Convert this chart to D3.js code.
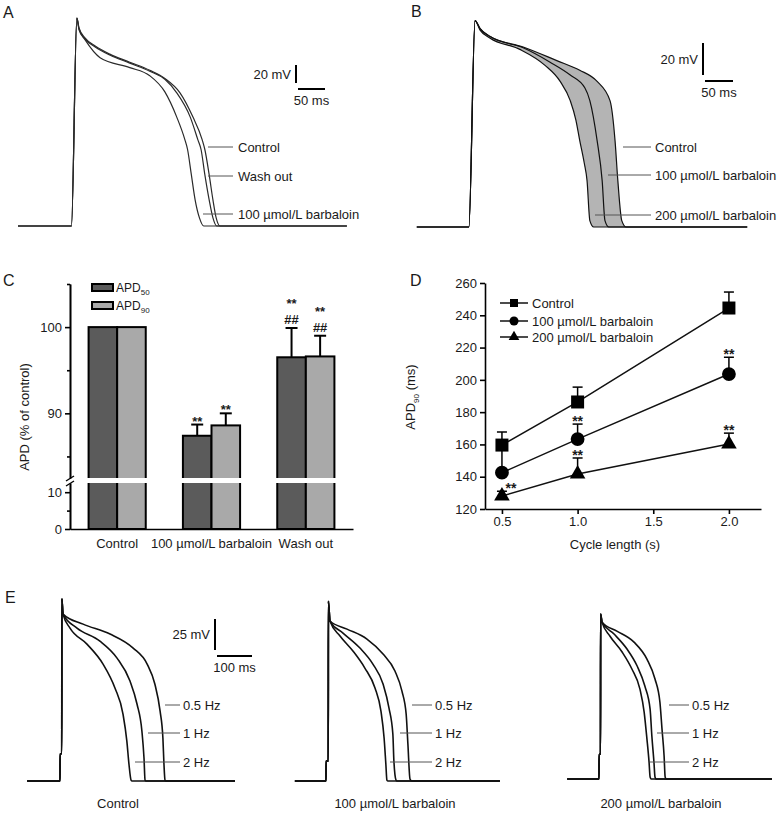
<!DOCTYPE html>
<html>
<head>
<meta charset="utf-8">
<script src="https://cdn.jsdelivr.net/npm/d3@7"></script>
<style>
  body { margin: 0; background: #fff; }
  text { font-family: "Liberation Sans", Arial, sans-serif; fill: #1a1a1a; }
</style>
</head>
<body>
<svg id="fig" width="777" height="813"></svg>
<script>
// ---- panel A: action potentials (t in ms, V in mV) ----
const apAControl = [[-100,-85],[-1,-85],[9,146],[13,135],[24,124],[43,115],[70,106],[107,97],[144,88],[172,79],[200,63],[224,36],[241,11],[246,0],[254,-28],[261,-56],[267,-76],[274,-85],[509,-85]];
const apAWashout = [[-100,-85],[-1,-85],[9,146],[13,134],[24,123],[43,114],[70,105],[107,96],[144,87],[172,78],[194,63],[219,36],[233,11],[239,0],[246,-28],[254,-56],[261,-76],[268,-85],[509,-85]];
const apABarb100 = [[-100,-85],[-1,-85],[9,146],[13,133],[24,122],[52,102],[107,91],[144,82],[172,64],[194,36],[209,11],[214,0],[221,-28],[228,-56],[236,-76],[244,-85],[509,-85]];
const aLabels = ['Control', 'Wash out', '100 µmol/L barbaloin'];

// ---- panel B ----
const apBControl = [[-95,-85],[-2,-85],[9,44],[18,39],[36,34],[95,27.5],[155,19],[196,13],[227,6],[250,-6],[259,-31],[264,-56],[271,-81],[279,-85],[495,-85]];
const apBBarb100 = [[-95,-85],[-2,-85],[9,44],[18,39],[36,34],[95,27],[143,18],[179,10],[205,2],[214,-6],[227,-31],[236,-56],[241,-81],[248,-85],[495,-85]];
const apBBarb200 = [[-95,-85],[-2,-85],[9,44],[18,38],[36,33],[89,26],[134,16],[161,6],[179,-6],[189,-18],[196,-31],[204,-45],[209,-56],[214,-81],[221,-85],[495,-85]];
const bLabels = ['Control', '100 µmol/L barbaloin', '200 µmol/L barbaloin'];

// ---- panel C ----
const cCategories = ['Control', '100 µmol/L barbaloin', 'Wash out'];
const cSeries = ['APD50', 'APD90'];
const cApd50 = [100, 87.4, 96.5];
const cApd50Err = [0, 1.3, 3.4];
const cApd90 = [100, 88.6, 96.6];
const cApd90Err = [0, 1.4, 2.4];
const cSig50 = [[], ['**'], ['##', '**']];
const cSig90 = [[], ['**'], ['##', '**']];

// ---- panel D ----
const dCycle = [0.5, 1.0, 2.0];
const dControl = [159.6, 186.3, 244.5];
const dControlErr = [8.1, 9.2, 9.9];
const dBarb100 = [142.5, 163.3, 203.6];
const dBarb100Err = [14, 9.3, 10.4];
const dBarb200 = [128, 141.7, 160.2];
const dBarb200Err = [3, 9.9, 6.8];
const dSig100 = [false, true, true];
const dSig200 = [true, true, true];
const dLegend = ['Control', '100 µmol/L barbaloin', '200 µmol/L barbaloin'];

// ---- panel E: stimulus + three pacing rates for each condition ----
const eStim1 = [[-94,-85],[0,-85],[0.3,-63],[5,-63],[5.3,62],[8.6,49.6]];
const eCtrl05 = [[66,41.5],[143,33.5],[209,22.2],[249,9.3],[271,-6.8],[286,-28.6],[294,-50.3],[297,-71.3],[300,-84.2],[303,-85],[500,-85]];
const eCtrl1 = [[48.6,38.3],[114,27.8],[163,14.1],[200,-4.4],[220,-22.9],[234,-44.7],[240,-66.5],[243,-84.2],[246,-85],[500,-85]];
const eCtrl2 = [[28.6,38.3],[77,25.4],[123,9.3],[157,-10],[180,-31],[191,-52.8],[197,-71.3],[203,-84.2],[206,-85],[500,-85]];
const eStim2 = [[-89,-85],[0,-85],[0.3,-69],[6.5,-69],[6.8,60],[11.4,44]];
const e100_05 = [[60,37.5],[117,29.5],[163,17.4],[197,3.7],[217,-12.5],[229,-31],[234,-55.2],[240,-83.4],[246,-85],[497,-85]];
const e100_1 = [[48.6,34.3],[97,22.2],[134,9.3],[163,-6.8],[180,-26.2],[191,-47.1],[194,-68.9],[200,-84.2],[203,-85],[497,-85]];
const e100_2 = [[40,31.9],[77,19.8],[111,6.1],[140,-10],[157,-28.6],[166,-50.3],[171,-71.3],[174,-84.2],[177,-85],[497,-85]];
const eStim3 = [[-91,-85],[0,-85],[0.3,-65],[4.3,-65],[4.6,48],[8.6,41.5]];
const e200_05 = [[51,34.3],[100,25.4],[137,11.7],[160,-4.4],[174,-22.9],[180,-44.7],[186,-66.5],[189,-83.4],[192,-85],[494,-85]];
const e200_1 = [[43,31.9],[80,19.8],[109,6.1],[131,-10],[146,-28.6],[151,-50.3],[157,-71.3],[160,-83.4],[163,-85],[494,-85]];
const e200_2 = [[31,30.3],[66,17.4],[94,3.7],[117,-12.5],[129,-31],[137,-52.8],[143,-71.3],[146,-83.4],[149,-85],[494,-85]];
const eRates = ['0.5 Hz', '1 Hz', '2 Hz'];
const eCaptions = ['Control', '100 µmol/L barbaloin', '200 µmol/L barbaloin'];

const svg = d3.select('#fig');
svg.append('rect').attr('width', 777).attr('height', 813).attr('fill', '#fff');

const apLine = (x, y) => d3.line().x(d => x(d[0])).y(d => y(d[1])).curve(d3.curveMonotoneX);

function panelLetter(txt, x, y) {
  svg.append('text').attr('x', x).attr('y', y).style('font-size', '16px').text(txt);
}

function pointer(g, x1, x2, y, label, tx) {
  g.append('line').attr('x1', x1).attr('x2', x2).attr('y1', y).attr('y2', y)
    .attr('stroke', '#555').attr('stroke-width', 1);
  g.append('text').attr('x', tx).attr('y', y).attr('dy', '0.35em')
    .style('font-size', '13px').text(label);
}

function scaleBar(g, x, y, xs, ys, tLen, vLen, vText, tText) {
  const hLen = xs(tLen) - xs(0);
  const vPx = ys(-85) - ys(-85 + vLen);
  g.append('line').attr('x1', x).attr('x2', x).attr('y1', y).attr('y2', y + vPx)
    .attr('stroke', '#000').attr('stroke-width', 2);
  g.append('line').attr('x1', x + 2).attr('x2', x + 2 + hLen).attr('y1', y + vPx + 6).attr('y2', y + vPx + 6)
    .attr('stroke', '#000').attr('stroke-width', 2);
  g.append('text').attr('x', x - 5).attr('y', y + vPx / 2).attr('dy', '0.35em')
    .attr('text-anchor', 'end').style('font-size', '13px').text(vText);
  g.append('text').attr('x', x + 2 + hLen / 2).attr('y', y + vPx + 17).attr('dy', '0.35em')
    .attr('text-anchor', 'middle').style('font-size', '13px').text(tText);
}

// ================= A =================
panelLetter('A', 3, 18);
const gA = svg.append('g');
const xA = d3.scaleLinear().domain([0, 50]).range([72, 99]);
const yA = d3.scaleLinear().domain([-85, -65]).range([226, 208]);
[apAControl, apAWashout, apABarb100].forEach(tr => {
  gA.append('path').attr('d', apLine(xA, yA)(tr))
    .attr('fill', 'none').attr('stroke', '#2a2a2a').attr('stroke-width', 1.2);
});
scaleBar(gA, 296, 65, xA, yA, 50, 20, '20 mV', '50 ms');
pointer(gA, 208, 233, 147, aLabels[0], 238);
pointer(gA, 208, 233, 176, aLabels[1], 238);
pointer(gA, 203, 233, 214, aLabels[2], 238);

// ================= B =================
panelLetter('B', 411, 17);
const gB = svg.append('g');
const xB = d3.scaleLinear().domain([0, 50]).range([470, 498]);
const yB = d3.scaleLinear().domain([-85, -65]).range([227, 195]);
const areaB = d3.area().x(d => xB(d[0])).y0(yB(-85)).y1(d => yB(d[1])).curve(d3.curveMonotoneX);
gB.append('path').attr('d', areaB(apBControl)).attr('fill', '#b4b4b4');
gB.append('path').attr('d', areaB(apBBarb200)).attr('fill', '#fff');
[apBControl, apBBarb100, apBBarb200].forEach(tr => {
  gB.append('path').attr('d', apLine(xB, yB)(tr))
    .attr('fill', 'none').attr('stroke', '#111').attr('stroke-width', 1.2);
});
scaleBar(gB, 703, 43, xB, yB, 50, 20, '20 mV', '50 ms');
pointer(gB, 623, 651, 147, bLabels[0], 655);
pointer(gB, 608, 651, 175, bLabels[1], 655);
pointer(gB, 595, 651, 215, bLabels[2], 655);

// ================= C =================
panelLetter('C', 3, 286);
const gC = svg.append('g');
const xC = d3.scaleBand().domain(cCategories).range([70, 353]).paddingInner(0.394).paddingOuter(0.197);
const xC2 = d3.scaleBand().domain(cSeries).range([0, xC.bandwidth()]);
const yCU = d3.scaleLinear().domain([82.5, 105]).range([478, 284]);
const yCL = d3.scaleLinear().domain([0, 12.5]).range([529, 483]);
const cVals = [cApd50, cApd90], cErrs = [cApd50Err, cApd90Err], cSigs = [cSig50, cSig90];
const cFill = ['#5b5b5b', '#a9a9a9'];

cCategories.forEach((cat, i) => {
  cSeries.forEach((s, k) => {
    const v = cVals[k][i];
    const bx = xC(cat) + xC2(s);
    gC.append('rect').attr('x', bx).attr('width', xC2.bandwidth())
      .attr('y', yCU(v)).attr('height', yCL(0) - yCU(v))
      .attr('fill', cFill[k]).attr('stroke', '#000').attr('stroke-width', 2);
  });
});
// axis break band
gC.append('rect').attr('x', 72).attr('width', 281).attr('y', yCU.range()[0]).attr('height', yCL.range()[1] - yCU.range()[0])
  .attr('fill', '#fff');

cCategories.forEach((cat, i) => {
  cSeries.forEach((s, k) => {
    const v = cVals[k][i], e = cErrs[k][i];
    const cx = xC(cat) + xC2(s) + xC2.bandwidth() / 2;
    if (e > 0) {
      gC.append('line').attr('x1', cx).attr('x2', cx).attr('y1', yCU(v)).attr('y2', yCU(v + e))
        .attr('stroke', '#000').attr('stroke-width', 2);
      gC.append('line').attr('x1', cx - 6).attr('x2', cx + 6).attr('y1', yCU(v + e)).attr('y2', yCU(v + e))
        .attr('stroke', '#000').attr('stroke-width', 2);
    }
    const marks = cSigs[k][i];
    const top = yCU(v + e);
    let base = marks.length > 1 ? top - 4 : top + 1;
    marks.forEach(m => {
      gC.append('text').attr('x', cx).attr('y', base).attr('text-anchor', 'middle')
        .style('font-size', '13px').style('font-weight', 'bold').text(m);
      base -= 16;
    });
  });
});

function styleAxis(g) {
  g.attr('font-family', null).attr('font-size', null);
  g.selectAll('text').style('font-size', '13px');
  g.selectAll('path, line').attr('stroke', '#000').attr('stroke-width', 1.6);
}
gC.append('g').attr('transform', 'translate(70,0)')
  .call(d3.axisLeft(yCU).tickValues([90, 100]).tickSize(5).tickSizeOuter(0)).call(styleAxis);
gC.append('g').attr('transform', 'translate(70,0)')
  .call(d3.axisLeft(yCU).tickValues([85, 95, 105]).tickSize(3).tickSizeOuter(0).tickFormat('')).call(styleAxis);
gC.append('g').attr('transform', 'translate(70,0)')
  .call(d3.axisLeft(yCL).tickValues([0, 10]).tickSize(5).tickSizeOuter(0)).call(styleAxis);
gC.append('g').attr('transform', 'translate(70,0)')
  .call(d3.axisLeft(yCL).tickValues([5]).tickSize(3).tickSizeOuter(0).tickFormat('')).call(styleAxis);
gC.append('g').attr('transform', 'translate(0,529)')
  .call(d3.axisBottom(xC).tickSize(0).tickPadding(10).tickSizeOuter(0)).call(styleAxis);
// break marks
[0, 5].forEach(o => {
  gC.append('line').attr('x1', 66).attr('x2', 74).attr('y1', 481 + o).attr('y2', 476 + o)
    .attr('stroke', '#000').attr('stroke-width', 1.4);
});
gC.append('text').attr('transform', 'translate(29,417) rotate(-90)').attr('text-anchor', 'middle')
  .style('font-size', '13px').text('APD (% of control)');
// legend
cSeries.forEach((s, k) => {
  const ly = 284 + k * 18;
  gC.append('rect').attr('x', 92).attr('y', ly).attr('width', 21).attr('height', 7)
    .attr('fill', cFill[k]).attr('stroke', '#000').attr('stroke-width', 2);
  const t = gC.append('text').attr('x', 116).attr('y', ly + 7.5).style('font-size', '12px');
  t.append('tspan').text(s.slice(0, 3));
  t.append('tspan').attr('dy', 3.5).style('font-size', '8px').text(s.slice(3));
});

// ================= D =================
panelLetter('D', 410, 286);
const gD = svg.append('g');
const xD = d3.scaleLinear().domain([0.388, 2.212]).range([485, 761]);
const yD = d3.scaleLinear().domain([120, 260]).range([509, 283]);
const dVals = [dControl, dBarb100, dBarb200];
const dErrs = [dControlErr, dBarb100Err, dBarb200Err];
const dSyms = [d3.symbolSquare, d3.symbolCircle, d3.symbolTriangle];
const dSize = [169, 150, 105];
const dLegSize = [64, 64, 50];

gD.append('g').attr('transform', 'translate(485,0)')
  .call(d3.axisLeft(yD).tickValues(d3.range(120, 261, 20)).tickSize(5).tickSizeOuter(0)).call(styleAxis);
gD.append('g').attr('transform', 'translate(0,509)')
  .call(d3.axisBottom(xD).tickValues([0.5, 1.0, 1.5, 2.0]).tickFormat(d3.format('.1f')).tickSize(5).tickSizeOuter(0))
  .call(styleAxis);

dVals.forEach((vals, s) => {
  vals.forEach((v, i) => {
    const x = xD(dCycle[i]), yt = yD(v + dErrs[s][i]);
    gD.append('line').attr('x1', x).attr('x2', x).attr('y1', yD(v)).attr('y2', yt)
      .attr('stroke', '#000').attr('stroke-width', 1.5);
    gD.append('line').attr('x1', x - 5).attr('x2', x + 5).attr('y1', yt).attr('y2', yt)
      .attr('stroke', '#000').attr('stroke-width', 1.5);
  });
});
dVals.forEach((vals, s) => {
  const pts = vals.map((v, i) => [dCycle[i], v]);
  gD.append('path').attr('d', d3.line().x(d => xD(d[0])).y(d => yD(d[1]))(pts))
    .attr('fill', 'none').attr('stroke', '#111').attr('stroke-width', 1.5);
});
dVals.forEach((vals, s) => {
  vals.forEach((v, i) => {
    gD.append('path').attr('d', d3.symbol().type(dSyms[s]).size(dSize[s])())
      .attr('transform', `translate(${xD(dCycle[i])},${yD(v)})`).attr('fill', '#000');
  });
});
[[dSig100, dBarb100, dBarb100Err], [dSig200, dBarb200, dBarb200Err]].forEach(([sig, vals, errs]) => {
  sig.forEach((on, i) => {
    if (!on) return;
    const x = xD(dCycle[i]);
    const yt = yD(vals[i] + errs[i]);
    const side = errs[i] < 5;
    gD.append('text').attr('x', side ? x + 9 : x).attr('y', side ? yD(vals[i]) - 3 : yt + 2)
      .attr('text-anchor', 'middle')
      .style('font-size', '14px').style('font-weight', 'bold').text('**');
  });
});
dLegend.forEach((lab, s) => {
  const ly = [303, 321, 337][s];
  gD.append('line').attr('x1', 500).attr('x2', 528).attr('y1', ly).attr('y2', ly)
    .attr('stroke', '#111').attr('stroke-width', 1.5);
  gD.append('path').attr('d', d3.symbol().type(dSyms[s]).size(dLegSize[s])())
    .attr('transform', `translate(514,${ly})`).attr('fill', '#000');
  gD.append('text').attr('x', 532).attr('y', ly).attr('dy', '0.35em').style('font-size', '13px').text(lab);
});
const dyl = gD.append('text').attr('transform', 'translate(415,397) rotate(-90)').attr('text-anchor', 'middle')
  .style('font-size', '13px');
dyl.append('tspan').text('APD');
dyl.append('tspan').attr('dy', 3.5).style('font-size', '8px').text('90');
dyl.append('tspan').attr('dy', -3.5).text(' (ms)');
gD.append('text').attr('x', 615).attr('y', 549).attr('text-anchor', 'middle').style('font-size', '13px')
  .text('Cycle length (s)');

// ================= E =================
panelLetter('E', 5, 603);
const gE = svg.append('g');
const eX0 = [60, 326, 599];
const eBase = [781, 781, 779];
const eStims = [eStim1, eStim2, eStim3];
const eTraces = [[eCtrl05, eCtrl1, eCtrl2], [e100_05, e100_1, e100_2], [e200_05, e200_1, e200_2]];
const eLabelStart = [[165, 148, 135], [412, 400, 390], [669, 657, 650]];
const eLabelEnd = [180, 432, 689];
const eLabelY = [705, 733, 762];
const eCapX = [118, 395, 661];

eTraces.forEach((set, p) => {
  const x = d3.scaleLinear().domain([0, 100]).range([eX0[p], eX0[p] + 35]);
  const y = d3.scaleLinear().domain([-85, -60]).range([eBase[p], eBase[p] - 31]);
  set.forEach(tail => {
    gE.append('path').attr('d', apLine(x, y)(eStims[p].concat(tail)))
      .attr('fill', 'none').attr('stroke', '#111').attr('stroke-width', 1.6);
  });
  eRates.forEach((r, k) => {
    pointer(gE, eLabelStart[p][k], eLabelEnd[p], eLabelY[k], r, eLabelEnd[p] + 3);
  });
  gE.append('text').attr('x', eCapX[p]).attr('y', 808).attr('text-anchor', 'middle')
    .style('font-size', '13px').text(eCaptions[p]);
  if (p === 0) scaleBar(gE, 215, 619, x, y, 100, 25, '25 mV', '100 ms');
});
</script>
</body>
</html>
